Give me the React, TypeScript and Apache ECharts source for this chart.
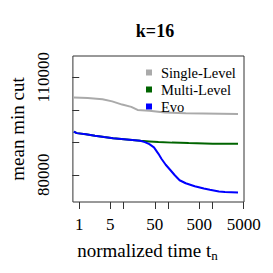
import React, { useEffect, useRef } from "react";
import * as echarts from "echarts";

const seriesNames = ["Single-Level", "Multi-Level", "Evo"];
const seriesColors = ["#aaaaaa", "#006400", "#0000ff"];

const singleTimes = [0.755, 1.55, 3.33, 5.51, 9.23, 14.8, 20.5, 37.8, 84.1, 248, 3727];
const singleValues = [103740, 103580, 103250, 102570, 101590, 100880, 99960, 99720, 99130, 98950, 98730];

const multiTimes = [0.755, 0.881, 1.41, 2.25, 3.61, 5.77, 11.7, 23.6, 37.8, 60.5, 122, 289, 1014, 3727];
const multiValues = [93300, 92810, 92440, 91980, 91610, 91270, 90870, 90440, 90260, 90080, 89890, 89740, 89580, 89520];

const evoTimes = [0.755, 0.881, 1.41, 2.25, 3.61, 5.77, 11.7, 23.6, 29.9, 37.8, 47.9, 60.5, 70.6, 88.1, 113, 141, 181, 248, 396, 634, 868, 1390, 1896, 3727];
const evoValues = [93300, 92810, 92440, 91980, 91610, 91270, 90870, 90440, 90040, 89430, 88450, 86450, 84920, 83080, 81390, 79850, 78320, 77400, 76480, 75770, 75400, 74850, 74700, 74540];

const xTicks = [1, 5, 10, 50, 100, 500, 1000, 5000];
const xLabels = [1, 5, 50, 500, 5000];
const yTicks = [80000, 90000, 100000, 110000];
const yLabels = [80000, 110000];

const FONT = "Liberation Serif";

export default function App() {
  const ref = useRef<HTMLDivElement>(null);
  useEffect(() => {
    if (!ref.current) return;
    const chart = echarts.init(ref.current, null, { renderer: "svg" });
    const toData = (ts: number[], vs: number[]) => ts.map((t, i) => [Math.log10(t), vs[i]]);
    chart.setOption({
      animation: false,
      textStyle: { fontFamily: FONT },
      title: {
        text: "k=16",
        left: 150,
        textAlign: "center",
        top: 17,
        textStyle: { fontFamily: FONT, fontSize: 18, fontWeight: "bold", color: "#000" },
      },
      grid: {
        left: 56,
        right: 29,
        top: 56,
        bottom: 71,
        show: true,
        borderColor: "#333",
        borderWidth: 1,
        backgroundColor: "transparent",
      },
      legend: {
        orient: "vertical",
        left: 146,
        top: 64,
        padding: 0,
        itemGap: 0,
        itemWidth: 6,
        itemHeight: 6,
        icon: "rect",
        data: seriesNames,
        textStyle: { fontFamily: FONT, fontSize: 14.5, fontWeight: "normal", color: "#000", lineHeight: 17, padding: [0, 0, 0, 4] },
      },
      xAxis: {
        type: "value",
        min: Math.log10(0.72),
        max: Math.log10(5080),
        name: "normalized time t{sub|n}",
        nameLocation: "middle",
        nameGap: 37,
        nameTextStyle: {
          fontFamily: FONT,
          fontSize: 19,
          color: "#000",
          padding: [0, 22, 0, 0],
          rich: { sub: { fontFamily: FONT, fontSize: 13, color: "#000", padding: [10, 0, 0, 0] } },
        },
        splitLine: { show: false },
        axisLine: { show: false },
        axisTick: {
          show: true,
          length: 7,
          lineStyle: { color: "#333" },
          customValues: xTicks.map((v) => Math.log10(v)),
        },
        axisLabel: {
          fontFamily: FONT,
          fontSize: 17,
          color: "#000",
          margin: 14,
          customValues: xLabels.map((v) => Math.log10(v)),
          formatter: (v: number) => String(Math.round(Math.pow(10, v))),
        },
      },
      yAxis: {
        type: "value",
        min: 71630,
        max: 116530,
        name: "mean min cut",
        nameLocation: "middle",
        nameGap: 45,
        nameTextStyle: { fontFamily: FONT, fontSize: 19, color: "#000" },
        splitLine: { show: false },
        axisLine: { show: false },
        axisTick: {
          show: true,
          length: 7,
          lineStyle: { color: "#333" },
          customValues: yTicks,
        },
        axisLabel: {
          fontFamily: FONT,
          fontSize: 17,
          color: "#000",
          rotate: 90,
          margin: 21,
          customValues: yLabels,
          formatter: (v: number) => String(v),
        },
      },
      series: [
        { name: seriesNames[0], type: "line", data: toData(singleTimes, singleValues), showSymbol: false, lineStyle: { width: 2, color: seriesColors[0] }, itemStyle: { color: seriesColors[0] } },
        { name: seriesNames[1], type: "line", data: toData(multiTimes, multiValues), showSymbol: false, lineStyle: { width: 2, color: seriesColors[1] }, itemStyle: { color: seriesColors[1] } },
        { name: seriesNames[2], type: "line", data: toData(evoTimes, evoValues), showSymbol: false, lineStyle: { width: 2, color: seriesColors[2] }, itemStyle: { color: seriesColors[2] } },
      ],
    });
    return () => chart.dispose();
  }, []);
  return <div ref={ref} style={{ width: 273, height: 273, position: "absolute", left: 0, top: 0 }} />;
}
